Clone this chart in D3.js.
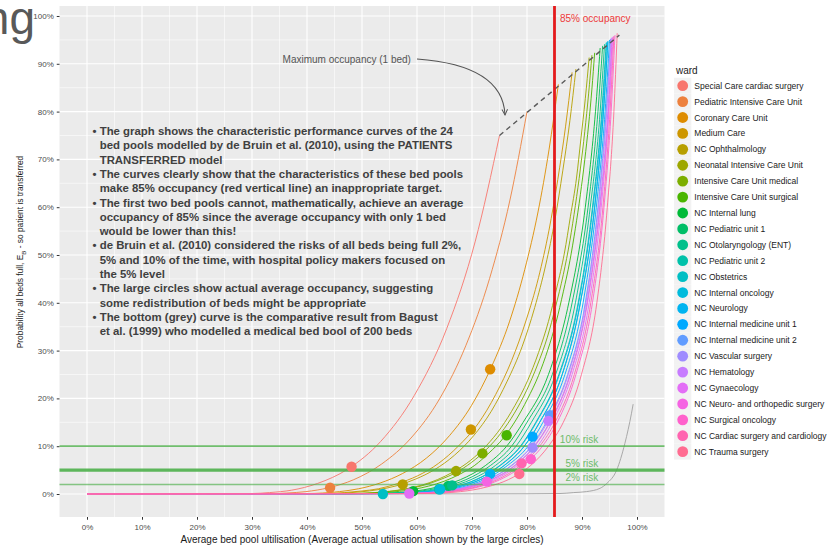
<!DOCTYPE html>
<html>
<head>
<meta charset="utf-8">
<script src="https://cdnjs.cloudflare.com/ajax/libs/d3/7.8.5/d3.min.js"></script>
<style>
	body { margin: 0; background: #fff; }
	svg { display: block; font-family: "Liberation Sans", Arial, sans-serif; }
</style>
</head>
<body>
<div id="chart"></div>
<script>
// tick values (percent)
const xTicks = [0, 10, 20, 30, 40, 50, 60, 70, 80, 90, 100];
const yTicks = [0, 10, 20, 30, 40, 50, 60, 70, 80, 90, 100];

const wards = ["Special Care cardiac surgery", "Pediatric Intensive Care Unit", "Coronary Care Unit",
	"Medium Care", "NC Ophthalmology", "Neonatal Intensive Care Unit", "Intensive Care Unit medical",
	"Intensive Care Unit surgical", "NC Internal lung", "NC Pediatric unit 1", "NC Otolaryngology (ENT)",
	"NC Pediatric unit 2", "NC Obstetrics", "NC Internal oncology", "NC Neurology",
	"NC Internal medicine unit 1", "NC Internal medicine unit 2", "NC Vascular surgery", "NC Hematology",
	"NC Gynaecology", "NC Neuro- and orthopedic surgery", "NC Surgical oncology",
	"NC Cardiac surgery and cardiology", "NC Trauma surgery"];

// actual average occupancy (large circles), percent
const actualX = [48.1, 44.2, 73.3, 69.8, 57.4, 67.1, 71.9, 76.3, 59.3, 65.7, 66.4, 64.0,
	53.8, 64.2, 73.3, 81.0, 84.2, 81.0, 83.9, 58.6, 72.7, 80.7, 79.0, 78.6];
const actualY = [5.7, 1.3, 26.1, 13.5, 2.0, 4.8, 8.5, 12.3, 0.6, 1.7, 1.8, 1.0,
	0.0, 1.0, 4.2, 12.0, 16.5, 9.7, 15.3, 0.1, 2.6, 7.3, 6.4, 4.2];

// performance curves, [utilisation %, probability %]
const cSpecialCare = [[75.0,75.0],[70.6,52.9],[65.4,34.6],[59.5,20.6],[53.4,11.0],[47.4,5.2],[41.9,2.2],[37.2,0.8],[33.2,0.3],[30.0,0.1],[0,0]];
const cPediatricIcu = [[80.0,80.0],[76.9,61.5],[73.2,45.1],[68.9,31.1],[64.1,19.9],[58.9,11.7],[53.6,6.3],[48.5,3.0],[43.9,1.3],[39.8,0.5],[36.3,0.2],[33.3,0.06],[0,0]];
const cCoronary = [[85.7,85.7],[84.0,72.0],[82.0,59.0],[79.6,47.0],[76.8,36.0],[73.5,26.5],[69.9,18.5],[65.9,12.2],[61.7,7.5],[57.4,4.3],[53.3,2.3],[49.4,1.1],[45.9,0.5],[42.8,0.2],[40.0,0.09],[0,0]];
const cMedium = [[88.2,88.2],[87.0,76.8],[85.6,65.8],[84.0,55.2],[82.1,45.3],[79.8,36.2],[77.2,27.9],[74.3,20.8],[71.1,14.7],[67.5,10.0],[63.9,6.4],[60.1,3.8],[56.5,2.2],[53.0,1.1],[49.7,0.6],[46.8,0.3],[44.1,0.1],[0,0]];
const cOphthalmology = [[88.9,88.9],[87.8,78.1],[86.5,67.6],[85.1,57.5],[83.4,47.9],[81.4,39.0],[79.1,30.8],[76.4,23.6],[73.5,17.3],[70.3,12.2],[66.8,8.1],[63.2,5.1],[59.7,3.1],[56.2,1.7],[52.9,0.9],[49.8,0.45],[47.0,0.2],[44.4,0.09],[0,0]];
const cNeonatal = [[91.3,91.3],[90.6,82.7],[89.8,74.3],[89.0,66.1],[87.9,58.1],[86.8,50.4],[85.4,43.1],[83.9,36.1],[82.1,29.6],[80.1,23.7],[77.8,18.5],[75.3,13.9],[72.6,10.1],[69.7,7.0],[66.7,4.7],[63.7,3.0],[60.7,1.8],[57.8,1.05],[55.0,0.58],[52.3,0.3],[50.0,0.15],[47.7,0.07],[0,0]];
const cIcuMedical = [[91.8,91.8],[91.2,83.7],[90.5,75.8],[89.7,68.0],[88.8,60.4],[87.8,53.0],[86.6,45.9],[85.2,39.2],[83.7,32.8],[81.9,27.0],[79.9,21.6],[77.7,16.9],[75.3,12.8],[72.7,9.4],[69.9,6.6],[67.1,4.5],[64.2,3.0],[61.3,1.85],[58.5,1.1],[55.9,0.64],[53.4,0.35],[51.0,0.19],[47.0,0.05],[0,0]];
const cIcuSurgical = [[92.3,92.3],[91.8,84.7],[91.2,77.2],[90.5,69.9],[89.7,62.6],[88.8,55.6],[87.8,48.8],[86.6,42.3],[85.3,36.0],[83.8,30.2],[82.1,24.8],[80.1,19.9],[78.0,15.5],[75.7,11.7],[73.1,8.6],[70.5,6.0],[67.7,4.1],[64.9,2.65],[62.1,1.65],[59.4,0.98],[56.8,0.56],[54.4,0.3],[52.1,0.16],[50.0,0.08],[0,0]];
const cLung = [[93.3,93.3],[92.45,80],[90.6,60],[87.6,40],[83.9,25],[79.3,15],[76.3,10],[72.5,6],[67.9,3],[63.8,1.5],[58.7,0.5],[51.8,0.1],[0,0]];
const cPediatric1 = [[93.75,93.75],[92.9,80],[91.1,60],[88.2,40],[84.6,25],[80.0,15],[77.2,10],[73.4,6],[68.9,3],[64.8,1.5],[59.7,0.5],[52.6,0.1],[0,0]];
const cEnt = [[94.1,94.1],[93.3,80],[91.5,60],[88.8,40],[85.2,25],[80.8,15],[78.0,10],[74.3,6],[69.8,3],[65.8,1.5],[60.7,0.5],[53.6,0.1],[0,0]];
const cPediatric2 = [[94.4,94.4],[93.6,80],[91.9,60],[89.3,40],[85.8,25],[81.6,15],[78.8,10],[75.1,6],[70.7,3],[66.7,1.5],[61.6,0.5],[54.5,0.1],[0,0]];
const cObstetrics = [[94.7,94.7],[93.9,80],[92.3,60],[89.7,40],[86.4,25],[82.3,15],[79.5,10],[75.9,6],[71.5,3],[67.5,1.5],[62.4,0.5],[55.3,0.1],[0,0]];
const cOncology = [[94.5,94.5],[93.7,80],[92.0,60],[89.4,40],[85.9,25],[81.7,15],[78.9,10],[75.2,6],[70.8,3],[66.8,1.5],[61.7,0.5],[54.6,0.1],[0,0]];
const cNeurology = [[94.7,94.7],[93.9,80],[92.3,60],[89.7,40],[86.4,25],[82.3,15],[79.5,10],[75.9,6],[71.5,3],[67.5,1.5],[62.4,0.5],[55.3,0.1],[0,0]];
const cInternal1 = [[95.0,95.0],[94.2,80],[92.6,60],[90.2,40],[86.9,25],[82.9,15],[80.2,10],[76.5,6],[72.2,3],[68.3,1.5],[63.2,0.5],[56.1,0.1],[0,0]];
const cInternal2 = [[95.2,95.2],[94.4,80],[92.9,60],[90.6,40],[87.4,25],[83.5,15],[80.8,10],[77.2,6],[72.9,3],[69.0,1.5],[63.9,0.5],[56.8,0.1],[0,0]];
const cVascular = [[95.45,95.45],[94.7,80],[93.2,60],[90.9,40],[87.8,25],[84.1,15],[81.3,10],[77.8,6],[73.5,3],[69.6,1.5],[64.6,0.5],[57.5,0.1],[0,0]];
const cHematology = [[95.3,95.3],[94.5,80],[93.0,60],[90.7,40],[87.5,25],[83.7,15],[80.9,10],[77.3,6],[73.0,3],[69.1,1.5],[64.0,0.5],[56.9,0.1],[0,0]];
const cGynaecology = [[95.65,95.65],[94.9,80],[93.5,60],[91.3,40],[88.2,25],[84.6,15],[81.9,10],[78.3,6],[74.1,3],[70.2,1.5],[65.2,0.5],[58.1,0.1],[0,0]];
const cNeuroOrtho = [[95.5,95.5],[94.8,80],[93.3,60],[91.0,40],[87.9,25],[84.2,15],[81.4,10],[77.9,6],[73.6,3],[69.7,1.5],[64.7,0.5],[57.6,0.1],[0,0]];
const cSurgOncology = [[96.0,96.0],[95.3,80],[94.0,60],[91.9,40],[88.9,25],[85.5,15],[82.8,10],[79.3,6],[75.1,3],[71.3,1.5],[66.3,0.5],[59.2,0.1],[0,0]];
const cCardiac = [[95.8,95.8],[95.1,80],[93.8,60],[91.6,40],[88.6,25],[85.1,15],[82.3,10],[78.8,6],[74.6,3],[70.8,1.5],[65.8,0.5],[58.7,0.1],[0,0]];
const cTrauma = [[96.4,96.4],[95.8,80],[94.6,60],[92.7,40],[89.9,25],[86.6,15],[83.9,10],[80.7,6],[76.6,3],[72.8,1.5],[67.9,0.5],[61.7,0.1],[0,0]];

const wardCurves = [cSpecialCare, cPediatricIcu, cCoronary, cMedium, cOphthalmology, cNeonatal,
	cIcuMedical, cIcuSurgical, cLung, cPediatric1, cEnt, cPediatric2, cObstetrics, cOncology,
	cNeurology, cInternal1, cInternal2, cVascular, cHematology, cGynaecology, cNeuroOrtho,
	cSurgOncology, cCardiac, cTrauma];

// Bagust et al. (1999), 200 beds
const bagust = [[40,0],[80,0.05],[86,0.1],[88.5,0.3],[90.8,0.5],[93.3,1.2],[94.5,2.2],[96.3,5.0],[97.8,10.6],[99.0,16.9],[99.3,18.8]];

const riskLevels = [10, 5, 2];
const riskLabels = ["10% risk", "5% risk", "2% risk"];
const targetOccupancy = 85;
const maxOccupancyLine = [[75, 75], [96.8, 96]];
const arrowPoints = [[60.0, 91.0], [75.6, 89.7], [76.0, 79.3]];

const notes = [
	["•", "The graph shows the characteristic performance curves of the 24"],
	["", "bed pools modelled by de Bruin et al. (2010), using the PATIENTS"],
	["", "TRANSFERRED model"],
	["•", "The curves clearly show that the characteristics of these bed pools"],
	["", "make 85% occupancy (red vertical line) an inappropriate target."],
	["•", "The first two bed pools cannot, mathematically, achieve an average"],
	["", "occupancy of 85% since the average occupancy with only 1 bed"],
	["", "would be lower than this!"],
	["•", "de Bruin et al. (2010) considered the risks of all beds being full 2%,"],
	["", "5% and 10% of the time, with hospital policy makers focused on"],
	["", "the 5% level"],
	["•", "The large circles show actual average occupancy, suggesting"],
	["", "some redistribution of beds might be appropriate"],
	["•", "The bottom (grey) curve is the comparative result from Bagust"],
	["", "et al. (1999) who modelled a medical bed bool of 200 beds"]
];

// ggplot-like hue palette (polar LUV, l=65, c=100)
function hueColor(h) {
	let L = 65, C = 100, hr = h * Math.PI / 180;
	let U = C * Math.cos(hr), V = C * Math.sin(hr);
	let Xn = 95.047, Yn = 100, Zn = 108.883;
	let den = Xn + 15 * Yn + 3 * Zn;
	let un = 4 * Xn / den, vn = 9 * Yn / den;
	let Y = Yn * Math.pow((L + 16) / 116, 3);
	let u = U / (13 * L) + un, v = V / (13 * L) + vn;
	let X = 9 * Y * u / (4 * v);
	let Z = Y * (12 - 3 * u - 20 * v) / (4 * v);
	X /= 100; Y /= 100; Z /= 100;
	let rgb = [3.240479 * X - 1.53715 * Y - 0.498535 * Z,
		-0.969256 * X + 1.875992 * Y + 0.041556 * Z,
		0.055648 * X - 0.204043 * Y + 1.057311 * Z].map(function(c) {
			c = c <= 0.0031308 ? 12.92 * c : 1.055 * Math.pow(c, 1 / 2.4) - 0.055;
			return Math.round(255 * Math.max(0, Math.min(1, c)));
		});
	return d3.rgb(rgb[0], rgb[1], rgb[2]).formatHex();
}
const colors = wards.map(function(d, i) { return hueColor(15 + 15 * i); });

let width = 827, height = 548;
let panel = {left: 59.5, right: 664.5, top: 6, bottom: 517};

let x = d3.scaleLinear().domain([-5, 105]).range([panel.left, panel.right]);
let y = d3.scaleLinear().domain([-4.81, 102.09]).range([panel.bottom, panel.top]);

let svg = d3.select("#chart").append("svg")
	.attr("width", width)
	.attr("height", height);

// partial slide title behind the chart
svg.append("text")
	.attr("x", 35).attr("y", 34)
	.attr("text-anchor", "end")
	.style("font-size", "46px")
	.attr("fill", "#595959")
	.text("ng");

// panel + grid
svg.append("rect")
	.attr("x", panel.left).attr("y", panel.top)
	.attr("width", panel.right - panel.left).attr("height", panel.bottom - panel.top)
	.attr("fill", "#ebebeb");

let minor = [5, 15, 25, 35, 45, 55, 65, 75, 85, 95];
let grid = svg.append("g");
grid.selectAll(".vminor").data(minor).enter().append("line")
	.attr("x1", d => x(d)).attr("x2", d => x(d))
	.attr("y1", panel.top).attr("y2", panel.bottom)
	.attr("stroke", "#fff").attr("stroke-width", 0.55);
grid.selectAll(".hminor").data(minor).enter().append("line")
	.attr("y1", d => y(d)).attr("y2", d => y(d))
	.attr("x1", panel.left).attr("x2", panel.right)
	.attr("stroke", "#fff").attr("stroke-width", 0.55);
grid.selectAll(".vmajor").data(xTicks).enter().append("line")
	.attr("x1", d => x(d)).attr("x2", d => x(d))
	.attr("y1", panel.top).attr("y2", panel.bottom)
	.attr("stroke", "#fff").attr("stroke-width", 1.1);
grid.selectAll(".hmajor").data(yTicks).enter().append("line")
	.attr("y1", d => y(d)).attr("y2", d => y(d))
	.attr("x1", panel.left).attr("x2", panel.right)
	.attr("stroke", "#fff").attr("stroke-width", 1.1);

// axes
let yAxisNode = svg.append("g")
	.attr("transform", "translate(" + panel.left + ",0)")
	.call(d3.axisLeft(y).tickValues(yTicks).tickFormat(d => d + "%").tickSize(2.75).tickPadding(3));
let xAxisNode = svg.append("g")
	.attr("transform", "translate(0," + panel.bottom + ")")
	.call(d3.axisBottom(x).tickValues(xTicks).tickFormat(d => d + "%").tickSize(2.75).tickPadding(4.5));
[xAxisNode, yAxisNode].forEach(function(g) {
	g.attr("font-family", null).attr("font-size", 8);
	g.select(".domain").remove();
	g.selectAll("line").attr("stroke", "#333");
	g.selectAll("text").attr("fill", "#4d4d4d");
});

svg.append("text")
	.attr("x", (panel.left + panel.right) / 2).attr("y", 543)
	.attr("text-anchor", "middle")
	.style("font-size", "10px")
	.attr("fill", "#1a1a1a")
	.text("Average bed pool ultilisation (Average actual utilisation shown by the large circles)");

let yTitle = svg.append("text")
	.attr("transform", "translate(23,252) rotate(-90)")
	.attr("text-anchor", "middle")
	.style("font-size", "8.4px")
	.attr("fill", "#1a1a1a");
yTitle.append("tspan").text("Probability all beds full, E");
yTitle.append("tspan").attr("baseline-shift", "sub").style("font-size", "6px").text("B");
yTitle.append("tspan").text(" - so patient is transferred");

// curves
let line = d3.line()
	.x(d => x(d[0]))
	.y(d => y(d[1]))
	.curve(d3.curveMonotoneX);
function sorted(pts) { return pts.slice().sort((a, b) => a[0] - b[0]); }

svg.append("path")
	.attr("d", line(sorted(bagust)))
	.attr("fill", "none").attr("stroke", "#a0a0a0").attr("stroke-width", 0.9);

svg.append("g").selectAll("path").data(wardCurves).enter().append("path")
	.attr("d", d => line(sorted(d)))
	.attr("fill", "none")
	.attr("stroke", (d, i) => colors[i])
	.attr("stroke-width", 0.9);

// risk lines
let riskStyle = [{w: 1.8, o: 0.8}, {w: 3.2, o: 0.9}, {w: 1.6, o: 0.65}];
svg.append("g").selectAll("line").data(riskLevels).enter().append("line")
	.attr("x1", panel.left).attr("x2", panel.right)
	.attr("y1", d => y(d)).attr("y2", d => y(d))
	.attr("stroke", "#4daf4a")
	.attr("stroke-width", (d, i) => riskStyle[i].w)
	.attr("stroke-opacity", (d, i) => riskStyle[i].o);
svg.append("g").selectAll("text").data(riskLevels).enter().append("text")
	.attr("x", x(92.95)).attr("y", d => y(d) - 3)
	.attr("text-anchor", "end")
	.style("font-size", "10px")
	.attr("fill", "#6dbb6a")
	.text((d, i) => riskLabels[i]);

// maximum occupancy (1 bed)
svg.append("path")
	.attr("d", d3.line().x(d => x(d[0])).y(d => y(d[1]))(maxOccupancyLine))
	.attr("stroke", "#595959").attr("stroke-width", 1.4)
	.attr("stroke-dasharray", "5,4").attr("fill", "none");

svg.append("defs").append("marker")
	.attr("id", "arrow").attr("viewBox", "0 0 10 10")
	.attr("refX", 9).attr("refY", 5)
	.attr("markerWidth", 7).attr("markerHeight", 7)
	.attr("markerUnits", "userSpaceOnUse")
	.attr("orient", "auto")
	.append("path").attr("d", "M1,1 L9,5 L1,9")
	.attr("fill", "none").attr("stroke", "#555").attr("stroke-width", 1.4);
let ap = arrowPoints.map(d => [x(d[0]), y(d[1])]);
svg.append("path")
	.attr("d", "M" + ap[0] + " Q" + ap[1] + " " + ap[2])
	.attr("fill", "none").attr("stroke", "#555").attr("stroke-width", 1.1)
	.attr("marker-end", "url(#arrow)");
svg.append("text")
	.attr("x", x(58.9)).attr("y", y(91.0) + 3.5)
	.attr("text-anchor", "end")
	.style("font-size", "10px")
	.attr("fill", "#555")
	.text("Maximum occupancy (1 bed)");

// actual occupancy circles
svg.append("g").selectAll("circle").data(wards).enter().append("circle")
	.attr("cx", (d, i) => x(actualX[i]))
	.attr("cy", (d, i) => y(actualY[i]))
	.attr("r", 5.2)
	.attr("fill", (d, i) => colors[i]);

// 85% occupancy
svg.append("line")
	.attr("x1", x(targetOccupancy)).attr("x2", x(targetOccupancy))
	.attr("y1", panel.top).attr("y2", panel.bottom)
	.attr("stroke", "#e41a1c").attr("stroke-width", 2.8);
svg.append("text")
	.attr("x", x(targetOccupancy) + 5.5).attr("y", 22)
	.style("font-size", "10px")
	.attr("fill", "#ee3a3a")
	.text(targetOccupancy + "% occupancy");

// notes
let notesG = svg.append("g")
	.style("font-size", "11.4px")
	.style("font-weight", "bold")
	.attr("fill", "#404040");
notes.forEach(function(n, i) {
	let yy = 135 + 14.3 * i;
	if (n[0]) notesG.append("text").attr("x", 92.5).attr("y", yy).text(n[0]);
	notesG.append("text").attr("x", 99.7).attr("y", yy).text(n[1]);
});

// legend
let legend = svg.append("g").attr("transform", "translate(674,0)");
legend.append("text")
	.attr("x", 2).attr("y", 74)
	.style("font-size", "10px")
	.attr("fill", "#1a1a1a")
	.text("ward");
let items = legend.selectAll(".item").data(wards).enter().append("g")
	.attr("transform", (d, i) => "translate(0," + (85.7 + 15.91 * i) + ")");
items.append("rect")
	.attr("x", 0).attr("y", -7.95)
	.attr("width", 17.3).attr("height", 15.91)
	.attr("fill", "#f2f2f2");
items.append("circle")
	.attr("cx", 8.7).attr("cy", 0).attr("r", 5.4)
	.attr("fill", (d, i) => colors[i]);
items.append("text")
	.attr("x", 20.3).attr("y", 3)
	.style("font-size", "8.5px")
	.attr("fill", "#1a1a1a")
	.text(d => d);
</script>
</body>
</html>
